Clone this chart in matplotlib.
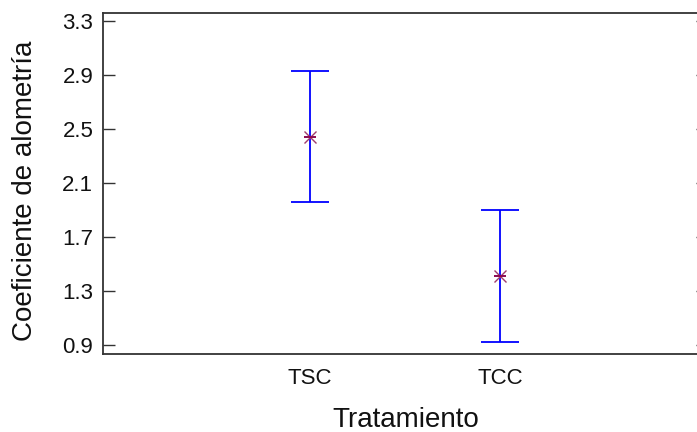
import matplotlib
matplotlib.use("Agg")
import matplotlib.pyplot as plt

categories = ["TSC", "TCC"]
means = [2.441, 1.414]
upper = [2.930, 1.898]
lower = [1.959, 0.922]
yticks = [0.9, 1.3, 1.7, 2.1, 2.5, 2.9, 3.3]

plt.rcParams['font.family'] = ['Liberation Sans', 'DejaVu Sans']

W, H = 697, 432
fig = plt.figure(figsize=(W/100, H/100), dpi=100)
left_px, right_px, top_px, bot_px = 103, 708, 13, 354
ax = fig.add_axes([left_px/W, 1 - bot_px/H, (right_px-left_px)/W, (bot_px-top_px)/H])

x = [1, 2]
yerr = [[m - l for m, l in zip(means, lower)], [u - m for m, u in zip(means, upper)]]
ax.errorbar(x, means, yerr=yerr, fmt='none', ecolor='#0000ff', elinewidth=1.3,
            capsize=13.5, capthick=1.3, zorder=2)
ax.plot(x, means, linestyle='none', marker='x', markersize=9,
        markeredgecolor='#a03c6c', markeredgewidth=1.0, zorder=3)
ax.plot(x, means, linestyle='none', marker='_', markersize=9,
        markeredgecolor='#8b0a50', markeredgewidth=1.4, zorder=3)

# x mapping: 1 -> 310px, 2 -> 500px
px_per = 190.0
ax.set_xlim(1 - (310 - left_px)/px_per, 1 + (right_px - 310)/px_per)
ax.set_ylim(0.833, 3.36)
ax.set_xticks(x)
ax.set_xticklabels(categories)
ax.set_yticks(yticks)
ax.set_yticklabels([f"{v:.1f}" for v in yticks])

ax.tick_params(axis='x', length=0, pad=10, labelsize=16, labelcolor='#111111')
ax.tick_params(axis='y', direction='in', length=8.6, width=1, colors='#333333',
               labelcolor='#111111', labelsize=16, pad=7, right=True)
for s in ax.spines.values():
    s.set_color('#333333')
    s.set_linewidth(1.3)

ax.set_xlabel("Tratamiento", fontsize=20, color='#111111', labelpad=13)
ax.set_ylabel("Coeficiente de alometría", fontsize=20, color='#111111')
ax.yaxis.set_label_coords(-(103 - 38) / (right_px - left_px), (bot_px - 191) / (bot_px - top_px))

fig.savefig("out.png", dpi=100)
